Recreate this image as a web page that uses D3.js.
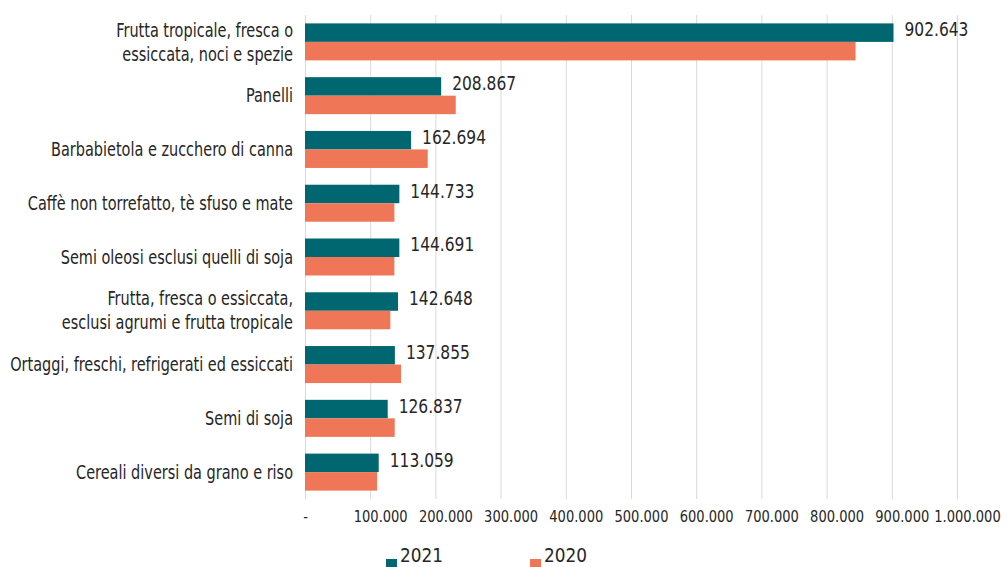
<!DOCTYPE html>
<html>
<head>
<meta charset="utf-8">
<script src="https://cdn.jsdelivr.net/npm/d3@7"></script>
<style>
  body { margin: 0; background: #fff; }
  svg text { font-family: "DejaVu Sans Condensed", "Liberation Sans", sans-serif; fill: #262626; }
</style>
</head>
<body>
<svg id="chart" width="1007" height="567"></svg>
<script>
// categories (top to bottom), each split in display lines
let categories = [
  ["Frutta tropicale, fresca o", "essiccata, noci e spezie"],
  ["Panelli"],
  ["Barbabietola e zucchero di canna"],
  ["Caffè non torrefatto, tè sfuso e mate"],
  ["Semi oleosi esclusi quelli di soja"],
  ["Frutta, fresca o essiccata,", "esclusi agrumi e frutta tropicale"],
  ["Ortaggi, freschi, refrigerati ed essiccati"],
  ["Semi di soja"],
  ["Cereali diversi da grano e riso"]
];
let values2021 = [902643, 208867, 162694, 144733, 144691, 142648, 137855, 126837, 113059];
let values2020 = [844400, 231200, 188200, 137100, 137100, 130900, 147300, 137600, 110500];
let seriesNames = ["2021", "2020"];
let seriesColors = ["#00666f", "#ef7656"];
let tickValues = [0, 100000, 200000, 300000, 400000, 500000, 600000, 700000, 800000, 900000, 1000000];

let svg = d3.select("#chart");
let marginLeft = 305, marginTop = 15;
let width = 652; // 0 -> 1.000.000
let height = 484;

let fmt = function(v) {
  if (v === 0) return "-";
  return d3.format(",")(v).replace(/,/g, ".");
};

// the original font is a condensed face: squeeze text horizontally to match
function squeezeFactor(str, size, target) {
  let t = svg.append("text").attr("font-size", size).text(str);
  let w = t.node().getComputedTextLength();
  t.remove();
  return target / w;
}
let kCat = squeezeFactor("Ortaggi, freschi, refrigerati ed essiccati", 19, 283);
let kVal = squeezeFactor("902.643", 19, 64);
let kAxis = squeezeFactor("100.000", 16, 54);
let kLeg = squeezeFactor("2021", 20, 43);

let catIdx = categories.map((c, i) => i);

let xScale = d3.scaleLinear().domain([0, 1000000]).range([0, width]);
let yScale = d3.scaleBand().domain(catIdx).range([0, height])
  .paddingInner(0.312).paddingOuter(0.156);
let inner = d3.scaleBand().domain(seriesNames).range([0, yScale.bandwidth()]);

let g = svg.append("g").attr("transform", "translate(" + marginLeft + "," + marginTop + ")");

// gridlines
g.append("g").selectAll("line")
  .data(tickValues)
  .enter()
  .append("line")
  .attr("x1", d => xScale(d) + 0.5)
  .attr("x2", d => xScale(d) + 0.5)
  .attr("y1", 0)
  .attr("y2", height)
  .attr("stroke", "#d9d9d9")
  .attr("stroke-width", 1);

// x axis labels
let xAxis = d3.axisBottom(xScale).tickValues(tickValues).tickSize(0).tickFormat(fmt);
let ax = g.append("g")
  .attr("transform", "translate(0," + height + ")")
  .call(xAxis);
ax.attr("font-family", null).attr("font-size", null);
ax.select(".domain").remove();
ax.selectAll("text")
  .attr("font-size", 16)
  .attr("fill", "#262626")
  .attr("y", 0)
  .attr("dy", "0.71em")
  .attr("transform", d => "translate(" + (d === 0 ? 0 : 10) + ",12) scale(" + kAxis + ",1)");

// bars
let rows = catIdx.map(i => ({ i: i, vals: [values2021[i], values2020[i]] }));
let grp = g.selectAll(".grp")
  .data(rows)
  .enter()
  .append("g")
  .attr("class", "grp")
  .attr("transform", d => "translate(0," + yScale(d.i) + ")");

grp.selectAll("rect")
  .data(d => d.vals.map((v, k) => ({ v: v, s: seriesNames[k], c: seriesColors[k] })))
  .enter()
  .append("rect")
  .attr("x", 0)
  .attr("y", d => inner(d.s))
  .attr("width", d => xScale(d.v))
  .attr("height", inner.bandwidth())
  .attr("fill", d => d.c);

// value labels (2021 only)
grp.append("text")
  .attr("transform", d => "translate(" + (xScale(d.vals[0]) + 11) + "," +
    (inner("2021") + inner.bandwidth() / 2 - 3) + ") scale(" + kVal + ",1)")
  .attr("dy", "0.35em")
  .attr("font-size", 19)
  .text(d => fmt(d.vals[0]));

// category labels
let cl = grp.append("text")
  .attr("text-anchor", "end")
  .attr("font-size", 19)
  .attr("transform", "translate(-12," + (yScale.bandwidth() / 2) + ") scale(" + kCat + ",1)");
cl.selectAll("tspan")
  .data(d => categories[d.i].map((t, k, arr) => ({ t: t, k: k, n: arr.length })))
  .enter()
  .append("tspan")
  .attr("x", 0)
  .attr("dy", d => d.k === 0 ? (0.35 - (d.n - 1) * 0.63) + "em" : "1.26em")
  .text(d => d.t);

// legend
let legend = svg.append("g").attr("transform", "translate(0,555)");
let legendX = [386, 530];
seriesNames.forEach(function(s, k) {
  legend.append("rect")
    .attr("x", legendX[k])
    .attr("y", 4)
    .attr("width", 11)
    .attr("height", 11)
    .attr("fill", seriesColors[k]);
  legend.append("text")
    .attr("transform", "translate(" + (legendX[k] + 14) + ",0) scale(" + kLeg + ",1)")
    .attr("dy", "0.35em")
    .attr("font-size", 20)
    .text(s);
});
</script>
</body>
</html>
